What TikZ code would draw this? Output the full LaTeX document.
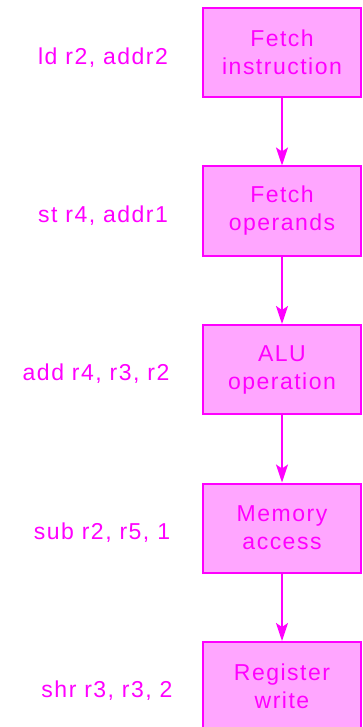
\documentclass[tikz,border=0pt]{standalone}
\usepackage{fontspec}
\setmainfont{Liberation Sans}[LetterSpace=6.5]
\usetikzlibrary{arrows.meta}
\definecolor{mag}{RGB}{255,0,255}
\definecolor{pinkfill}{RGB}{255,166,255}
\tikzset{
  stage/.style={draw=mag, fill=pinkfill, line width=2pt, minimum width=158.5pt, minimum height=89pt, inner sep=0pt, align=center, text=mag, font=\fontsize{23}{28}\selectfont},
  instr/.style={text=mag, font=\fontsize{23}{27}\selectfont, anchor=center},
  flow/.style={draw=mag, line width=2pt, -{Stealth[length=18pt,width=12pt,inset=4pt]}}
}
\begin{document}
\begin{tikzpicture}[x=1pt,y=-1pt]
\useasboundingbox (0,0) rectangle (363,727);
\node[stage] (s1) at (282,52.5) {Fetch\\instruction};
\node[stage] (s2) at (282,211) {Fetch\\operands};
\node[stage] (s3) at (282,369.5) {ALU\\operation};
\node[stage] (s4) at (282,528) {Memory\\access};
\node[stage] (s5) at (282,686.5) {Register\\write};
\node[instr] (l1) at (103,58) {ld r2, addr2};
\node[instr] (l2) at (103,216) {st r4, addr1};
\node[instr] (l3) at (96,374) {add r4, r3, r2};
\node[instr] (l4) at (102,533) {sub r2, r5, 1};
\node[instr] (l5) at (107,691) {shr r3, r3, 2};
\draw[flow] (s1) -- (s2);
\draw[flow] (s2) -- (s3);
\draw[flow] (s3) -- (s4);
\draw[flow] (s4) -- (s5);
\end{tikzpicture}
\end{document}
